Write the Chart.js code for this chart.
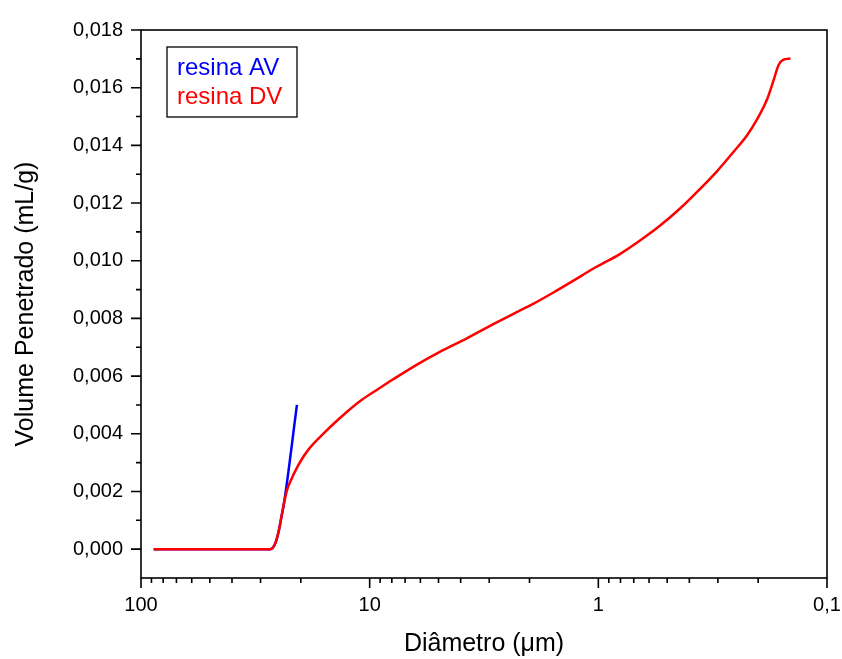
<!DOCTYPE html>
<html>
<head>
<meta charset="utf-8">
<script src="https://cdn.jsdelivr.net/npm/chart.js@4"></script>
<style>
  html, body { margin: 0; padding: 0; background: #fff; }
  canvas { display: block; }
</style>
</head>
<body>
<canvas id="chart" width="842" height="659"></canvas>
<script>
// diametro em µm, volume em mL/g
const diametroAV = [88, 30, 27.2, 25.8, 24.9, 24.3, 23.7, 20.8];
const volumeAV = [0, 0, 0, 0.000224, 0.00068, 0.00113, 0.00159, 0.005];

const diametroDV = [88, 50, 30, 27.2, 25.8, 24.9, 24.3, 23.7, 23.0, 21.8, 20.4, 18.5, 16.1, 13.6, 10.9, 9.31, 7.89, 6.21, 4.91, 3.76, 2.88, 2.35, 1.92, 1.57, 1.29, 1.05, 0.802, 0.655, 0.535, 0.438, 0.358, 0.303, 0.256, 0.224, 0.202, 0.183, 0.171, 0.163, 0.155, 0.1445];
const volumeDV = [0, 0, 0, 0, 0.000224, 0.00068, 0.00113, 0.00159, 0.00204, 0.00249, 0.00295, 0.00346, 0.00397, 0.00452, 0.00516, 0.00552, 0.00589, 0.0064, 0.00685, 0.00731, 0.0078, 0.00816, 0.00851, 0.0089, 0.0093, 0.00973, 0.01024, 0.01071, 0.01123, 0.01182, 0.01250, 0.0131, 0.01378, 0.01434, 0.01491, 0.01559, 0.01627, 0.01678, 0.01697, 0.01701];

const xMajorTicks = [100, 10, 1, 0.1];
const xMinorTicks = [90, 80, 70, 60, 50, 40, 30, 20, 9, 8, 7, 6, 5, 4, 3, 2, 0.9, 0.8, 0.7, 0.6, 0.5, 0.4, 0.3, 0.2];
const yMajorTicks = [0, 0.002, 0.004, 0.006, 0.008, 0.010, 0.012, 0.014, 0.016, 0.018];
const yMinorTicks = [0.001, 0.003, 0.005, 0.007, 0.009, 0.011, 0.013, 0.015, 0.017];

const FONT = "'Liberation Sans', Arial, sans-serif";

function toPoints(xs, ys) {
  return xs.map((x, i) => ({ x: x, y: ys[i] }));
}

function isMajor(list, v) {
  return list.some(m => Math.abs(m - v) < 1e-9);
}

// moldura + marcas dos eixos (maiores e menores)
const frameTicks = {
  id: "frameTicks",
  afterDraw(chart) {
    const { ctx, chartArea } = chart;
    const xs = chart.scales.x;
    const ys = chart.scales.y;
    ctx.save();
    ctx.strokeStyle = "#000";
    ctx.lineWidth = 1.6;
    ctx.strokeRect(chartArea.left, chartArea.top, chartArea.right - chartArea.left, chartArea.bottom - chartArea.top);

    ctx.beginPath();
    xMajorTicks.concat(xMinorTicks).forEach(v => {
      const px = xs.getPixelForValue(v);
      const len = isMajor(xMajorTicks, v) ? 10 : 5;
      ctx.moveTo(px, chartArea.bottom);
      ctx.lineTo(px, chartArea.bottom + len);
    });
    yMajorTicks.concat(yMinorTicks).forEach(v => {
      const py = ys.getPixelForValue(v);
      const len = isMajor(yMajorTicks, v) ? 10 : 5;
      ctx.moveTo(chartArea.left, py);
      ctx.lineTo(chartArea.left - len, py);
    });
    ctx.stroke();
    ctx.restore();
  },
};

// legenda com caixa, só texto colorido
const boxLegend = {
  id: "boxLegend",
  afterDraw(chart) {
    const { ctx } = chart;
    ctx.save();
    ctx.strokeStyle = "#000";
    ctx.lineWidth = 1.3;
    ctx.strokeRect(167, 47, 130, 70);
    ctx.font = "24px " + FONT;
    ctx.textBaseline = "alphabetic";
    ctx.textAlign = "left";
    chart.data.datasets.forEach((ds, i) => {
      ctx.fillStyle = ds.borderColor;
      ctx.fillText(ds.label, 177, 75 + i * 29);
    });
    ctx.restore();
  },
};

new Chart(document.getElementById("chart"), {
  type: "line",
  data: {
    datasets: [
      {
        label: "resina AV",
        data: toPoints(diametroAV, volumeAV),
        borderColor: "#0000ff",
        borderWidth: 2.5,
        pointRadius: 0,
        cubicInterpolationMode: "monotone",
        order: 1,
      },
      {
        label: "resina DV",
        data: toPoints(diametroDV, volumeDV),
        borderColor: "#ff0000",
        borderWidth: 2.5,
        pointRadius: 0,
        cubicInterpolationMode: "monotone",
        order: 0,
      },
    ],
  },
  options: {
    responsive: false,
    animation: false,
    layout: { padding: { left: 0, top: 19, right: 15, bottom: 0 } },
    plugins: {
      legend: { display: false },
      tooltip: { enabled: false },
    },
    scales: {
      x: {
        type: "logarithmic",
        reverse: true,
        min: 0.1,
        max: 100,
        afterBuildTicks(scale) {
          scale.ticks = xMajorTicks.concat(xMinorTicks).map(v => ({ value: v }));
        },
        afterFit(scale) {
          scale.height = 81;
        },
        grid: { display: false, drawTicks: false },
        border: { display: false },
        ticks: {
          autoSkip: false,
          maxRotation: 0,
          padding: 15,
          color: "#000",
          font: { family: FONT, size: 20 },
          callback: function (v) {
            return isMajor(xMajorTicks, v) ? String(v).replace(".", ",") : "";
          },
        },
        title: {
          display: true,
          text: "Diâmetro (μm)",
          color: "#000",
          font: { family: FONT, size: 25 },
          padding: { top: 0, bottom: 0 },
        },
      },
      y: {
        min: -0.001,
        max: 0.018,
        afterBuildTicks(scale) {
          scale.ticks = yMajorTicks.concat(yMinorTicks).map(v => ({ value: v }));
        },
        afterFit(scale) {
          scale.width = 141;
        },
        grid: { display: false, drawTicks: false },
        border: { display: false },
        ticks: {
          autoSkip: false,
          padding: 18,
          color: "#000",
          font: { family: FONT, size: 20 },
          callback: function (v) {
            return isMajor(yMajorTicks, v) ? v.toFixed(3).replace(".", ",") : "";
          },
        },
        title: {
          display: true,
          text: "Volume Penetrado (mL/g)",
          color: "#000",
          font: { family: FONT, size: 25 },
          padding: { top: 11, bottom: 0 },
        },
      },
    },
  },
  plugins: [frameTicks, boxLegend],
});
</script>
</body>
</html>
